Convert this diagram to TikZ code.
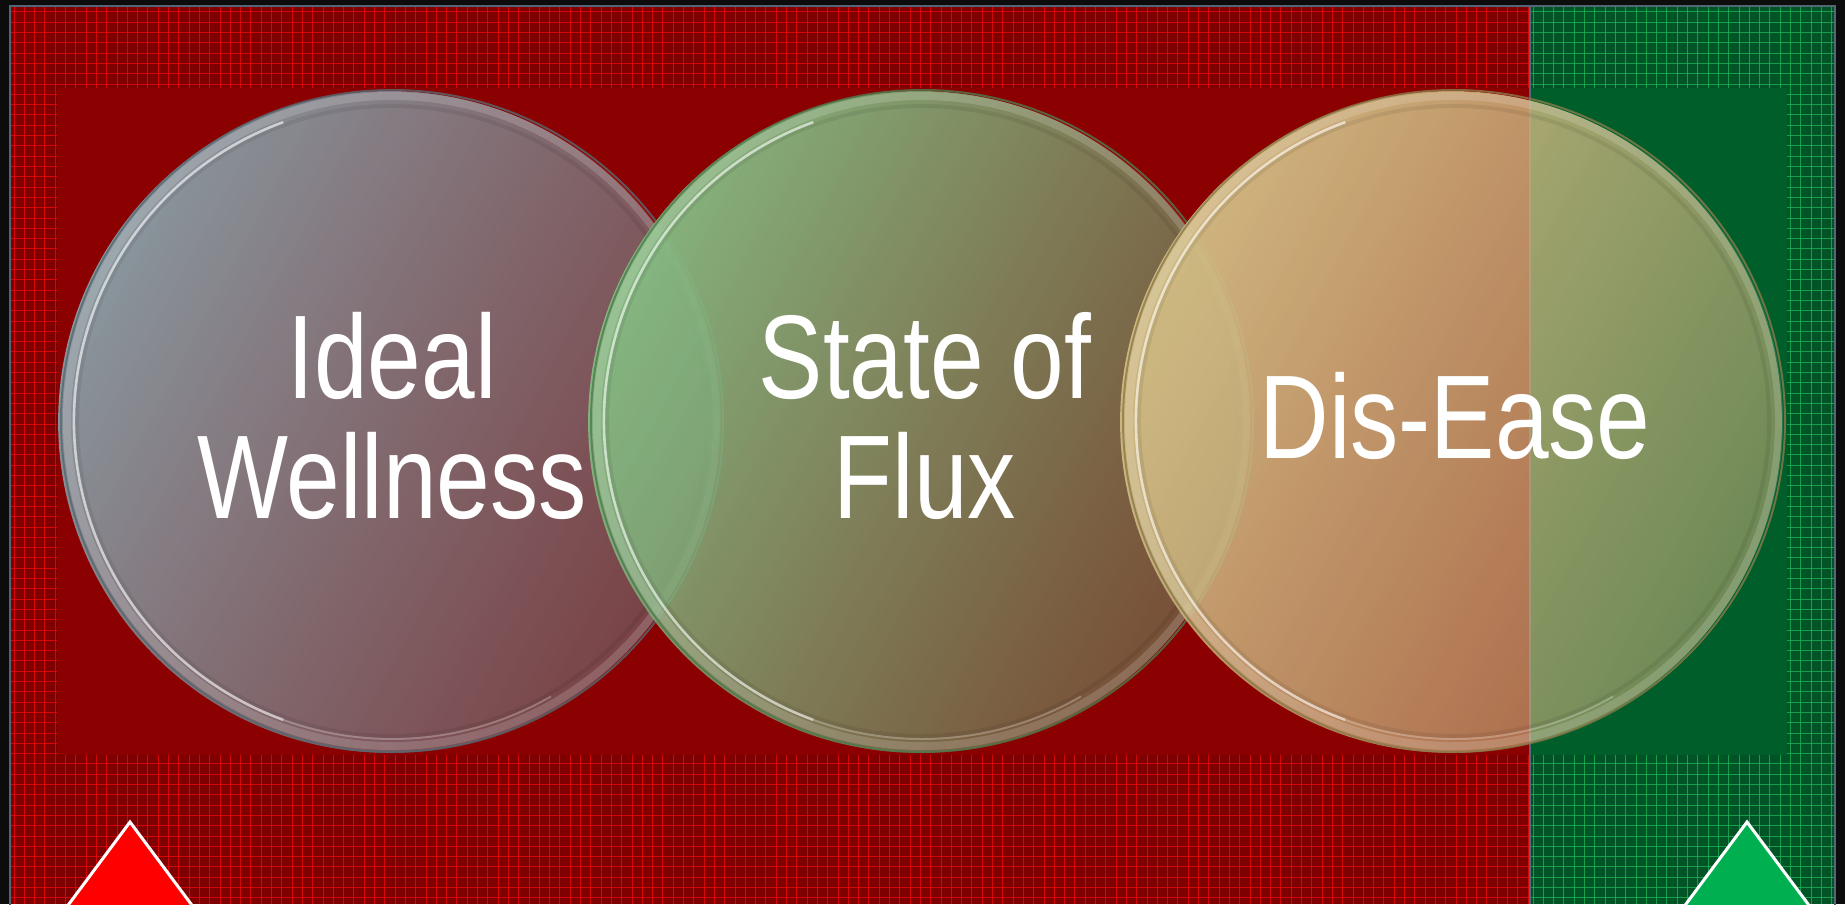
\documentclass[tikz,border=0pt]{standalone}
\usepackage{fontspec}
\newfontfamily\narrowfont[FakeStretch=0.81]{Liberation Sans}
\usetikzlibrary{fadings}
\definecolor{bgblack}{HTML}{0C0C0C}
\definecolor{framec}{HTML}{536676}
\definecolor{gridred}{HTML}{7E0000}
\definecolor{redline}{HTML}{F00A0A}
\definecolor{innerred}{HTML}{8B0000}
\definecolor{gridgreen}{HTML}{005426}
\definecolor{greenline}{HTML}{1FB85A}
\definecolor{innergreen}{HTML}{005E2A}
\definecolor{cOne}{HTML}{8A9CA4}
\definecolor{cOneE}{HTML}{566870}
\definecolor{cTwo}{HTML}{86BA82}
\definecolor{cTwoE}{HTML}{4E7A4E}
\definecolor{cThree}{HTML}{D2BC84}
\definecolor{cThreeE}{HTML}{8A7A4A}
\definecolor{triRed}{HTML}{FF0000}
\definecolor{triGreen}{HTML}{00B050}
\tikzfading[name=glassfade, left color=transparent!3, right color=transparent!52]
\tikzfading[name=glassfadeC, left color=transparent!3, right color=transparent!44]
\tikzfading[name=darkfade, left color=transparent!100, right color=transparent!88]
\tikzfading[name=darkfadeC, left color=transparent!100, right color=transparent!94]
\tikzset{
  gline/.style={line width=0.5pt, opacity=0.75},
  labeltext/.style={text=white, inner sep=0pt, anchor=base, font=\narrowfont\fontsize{59.5}{60}\selectfont},
  tri/.style={draw=white, line width=1.5pt, line join=miter},
}
\newcommand\glassdisc[5]{%
  \fill[#2, path fading=#4, fading angle=-28] (#1) circle[radius=332];
  \fill[black, path fading=#5, fading angle=-28] (#1) circle[radius=332];
  \draw[#3, line width=1pt, opacity=0.8] (#1) circle[radius=331];
  \draw[white, line width=4pt, opacity=0.16] (#1) circle[radius=325];
  \draw[black, line width=2pt, opacity=0.07] (#1) circle[radius=315];
  \draw[white, line width=1.3pt, opacity=0.6] ([shift={(110:318)}]#1) arc[start angle=110, end angle=250, radius=318];
  \draw[white, line width=1pt, opacity=0.25] ([shift={(60:318)}]#1) arc[start angle=60, end angle=110, radius=318];
}
\begin{document}
\begin{tikzpicture}[x=0.5pt,y=-0.5pt]
\useasboundingbox (0,0) rectangle (1845,904);
\fill[bgblack] (0,0) rectangle (1845,904);
% textured zones
\fill[gridred] (11,7) rectangle (1530,904);
\fill[gridgreen] (1530,7) rectangle (1834,904);
\begin{scope}
  \clip (11,7) rectangle (1530,904);
  \foreach \i in {0,...,148} \draw[redline, gline] ({14+10.3*\i},7) -- ++(0,897);
  \foreach \j in {0,...,87} \draw[redline, gline] (11,{12+10.3*\j}) -- ++(1519,0);
\end{scope}
\begin{scope}
  \clip (1530,7) rectangle (1834,904);
  \foreach \i in {0,...,30} \draw[greenline, gline] ({1533+10.3*\i},7) -- ++(0,897);
  \foreach \j in {0,...,87} \draw[greenline, gline] (1530,{12+10.3*\j}) -- ++(304,0);
\end{scope}
% inner solid zones
\fill[innerred] (57,88) rectangle (1530,755);
\fill[innergreen] (1530,88) rectangle (1787,755);
% divider and frame
\draw[framec, line width=1pt] (1530,7) -- (1530,904);
\draw[framec, line width=1.2pt] (10,6) rectangle (1835,906);
% circles
\coordinate (c1) at (392,421);
\coordinate (c2) at (922,421);
\coordinate (c3) at (1454,421);
\glassdisc{c1}{cOne}{cOneE}{glassfade}{darkfade}
\glassdisc{c2}{cTwo}{cTwoE}{glassfade}{darkfade}
\glassdisc{c3}{cThree}{cThreeE}{glassfadeC}{darkfadeC}
% labels
\node[labeltext] (t1a) at (392,398) {Ideal};
\node[labeltext] (t1b) at (392,518) {Wellness};
\node[labeltext] (t2a) at (925,398) {State of};
\node[labeltext] (t2b) at (925,518) {Flux};
\node[labeltext] (t3) at (1455,458) {Dis-Ease};
% triangles
\coordinate (ra) at (130,822);
\coordinate (ga) at (1747,822);
\filldraw[tri, fill=triRed] (ra) -- ++(-64,86) -- ++(128,0) -- cycle;
\filldraw[tri, fill=triGreen] (ga) -- ++(-64,86) -- ++(128,0) -- cycle;
\end{tikzpicture}
\end{document}
